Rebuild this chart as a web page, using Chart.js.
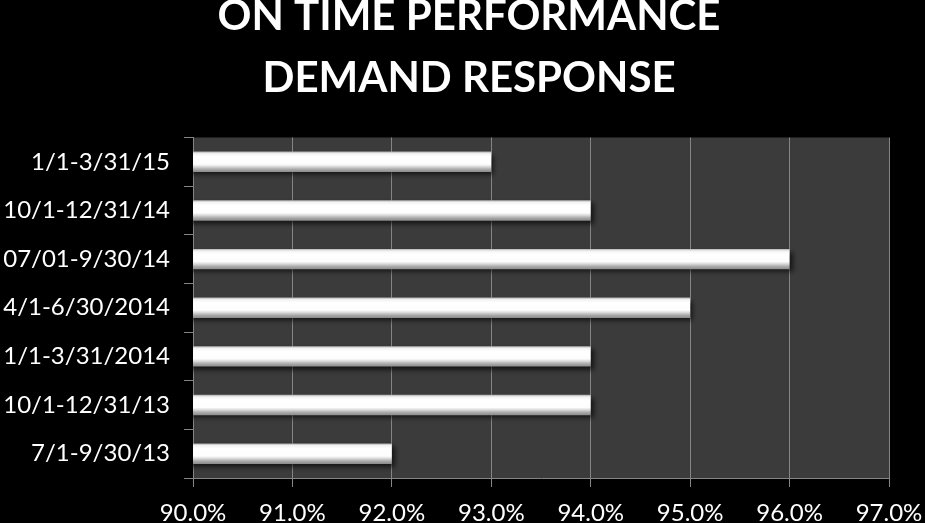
<!DOCTYPE html>
<html>
<head>
<meta charset="utf-8">
<script src="https://cdn.jsdelivr.net/npm/chart.js@4/dist/chart.umd.min.js"></script>
<style>
  html, body { margin: 0; padding: 0; background: #000; }
  #wrap { width: 925px; height: 523px; }
</style>
</head>
<body>
<div id="wrap"><canvas id="chart"></canvas></div>
<script>
// quarters, top to bottom as shown
const periods = ['1/1-3/31/15', '10/1-12/31/14', '07/01-9/30/14', '4/1-6/30/2014', '1/1-3/31/2014', '10/1-12/31/13', '7/1-9/30/13'];
const onTime = [93, 94, 96, 95, 94, 94, 92];
const titleLines = ['ON TIME PERFORMANCE', 'DEMAND RESPONSE'];
const xMin = 90;
const xMax = 97;

const BAR_FRAC = 0.42;

// vertical gradient across each bar, so it looks like the beveled excel bars
function barFill(context) {
    const chart = context.chart;
    const y = chart.scales.y;
    if (!y || context.dataIndex === undefined) return '#f0f0f0';
    const yc = y.getPixelForValue(context.dataIndex);
    const band = Math.abs(y.getPixelForValue(1) - y.getPixelForValue(0));
    if (!isFinite(yc) || !isFinite(band) || band === 0) return '#f0f0f0';
    const h = band * BAR_FRAC;
    const g = chart.ctx.createLinearGradient(0, yc - h / 2, 0, yc + h / 2);
    g.addColorStop(0, '#b0b0b0');
    g.addColorStop(0.1, '#f2f2f2');
    g.addColorStop(0.25, '#ffffff');
    g.addColorStop(0.62, '#fdfdfd');
    g.addColorStop(0.74, '#d8d8d8');
    g.addColorStop(0.86, '#ababab');
    g.addColorStop(1, '#8a8a8a');
    return g;
}

const plotBg = {
    id: 'plotBg',
    afterLayout(chart) {
        // the original title sits a bit right of the page centre
        const t = chart.titleBlock;
        if (t) {
            const shift = 469 - (t.left + t.right) / 2;
            t.left += shift;
            t.right += shift;
        }
    },
    beforeDraw(chart) {
        const { ctx, chartArea: a } = chart;
        ctx.save();
        ctx.fillStyle = '#000';
        ctx.fillRect(0, 0, chart.width, chart.height);
        ctx.fillStyle = '#3b3b3b';
        ctx.fillRect(a.left, a.top, a.right - a.left, a.bottom - a.top);
        ctx.restore();
    },
    beforeDatasetsDraw(chart) {
        const ctx = chart.ctx;
        ctx.save();
        ctx.shadowColor = 'rgba(0,0,0,0.65)';
        ctx.shadowBlur = 5;
        ctx.shadowOffsetX = 3;
        ctx.shadowOffsetY = 3;
    },
    afterDatasetsDraw(chart) {
        chart.ctx.restore();
    }
};

new Chart(document.getElementById('chart'), {
    type: 'bar',
    data: {
        labels: periods,
        datasets: [{
            data: onTime,
            backgroundColor: barFill,
            borderWidth: 0,
            barPercentage: BAR_FRAC,
            categoryPercentage: 1
        }]
    },
    options: {
        indexAxis: 'y',
        responsive: true,
        maintainAspectRatio: false,
        animation: false,
        events: [],
        layout: { padding: 0 },
        plugins: {
            legend: { display: false },
            tooltip: { enabled: false },
            title: {
                display: true,
                text: titleLines,
                color: '#ffffff',
                font: { family: 'Lato', weight: 'bold', size: 42, lineHeight: 1.47 },
                padding: { top: -14, bottom: 28 }
            }
        },
        scales: {
            x: {
                min: xMin,
                max: xMax,
                ticks: {
                    stepSize: 1,
                    color: '#ffffff',
                    font: { family: 'Lato', size: 24 },
                    padding: 12,
                    callback: v => v.toFixed(1) + '%'
                },
                grid: { color: '#858585', lineWidth: 1, tickLength: 9 },
                border: { color: '#858585' },
                afterFit(s) {
                    s.height = 45;
                    s.paddingLeft = 0;
                    s.paddingRight = 36;
                }
            },
            y: {
                ticks: {
                    color: '#ffffff',
                    font: { family: 'Lato', size: 24 },
                    padding: 14
                },
                grid: { offset: true, drawOnChartArea: false, color: '#858585', tickLength: 9 },
                border: { color: '#858585' },
                afterFit(s) { s.width = 193; }
            }
        }
    },
    plugins: [plotBg]
});
</script>
</body>
</html>
